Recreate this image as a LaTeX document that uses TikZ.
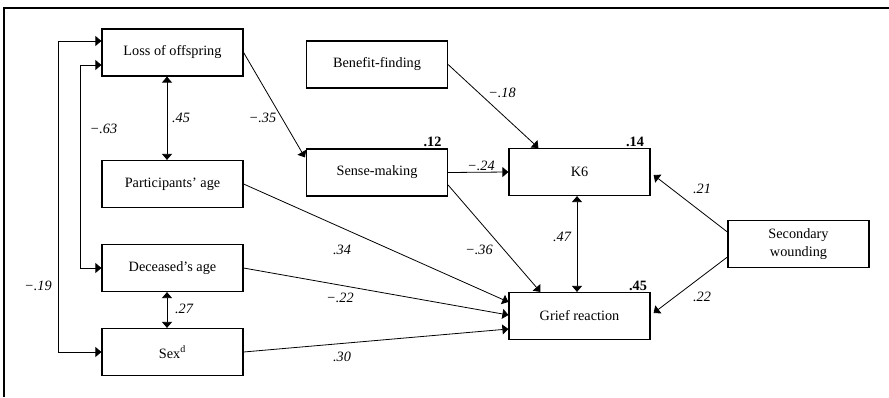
\documentclass[tikz,border=0pt]{standalone}
\usepackage{fontspec}
\setmainfont{Liberation Serif}
\usetikzlibrary{arrows.meta,calc}
\tikzset{
  box/.style={draw, line width=0.9pt, minimum width=105.75pt, minimum height=35.25pt,
    inner sep=0pt, align=center, font=\fontsize{10.7}{13.5}\selectfont},
  coef/.style={inner sep=0pt, font=\fontsize{10.7}{12}\selectfont\itshape},
  rsq/.style={inner sep=0pt, font=\fontsize{10.7}{12}\selectfont\bfseries},
  link/.style={line width=0.6pt, -{Triangle[length=4.5pt,width=7.5pt]}},
  twoway/.style={line width=0.6pt, {Triangle[length=4.5pt,width=7.5pt]}-{Triangle[length=4.5pt,width=7.5pt]}}
}
\begin{document}
\begin{tikzpicture}[x=0.75pt,y=-0.75pt]
    \useasboundingbox (0,0) rectangle (889,397);
    % frame
    \draw[line width=2pt] (4,397) -- (4,8) -- (889,8);
    % boxes
    \node[box] (loss) at (172.5,52.5) {Loss of offspring};
    \node[box] (part) at (172.5,184) {Participants’ age};
    \node[box] (dec) at (172.5,268) {Deceased’s age};
    \node[box] (sex) at (172.5,352) {Sex\textsuperscript{d}};
    \node[box] (benefit) at (377,64.5) {Benefit-finding};
    \node[box] (sense) at (377,172.5) {Sense-making};
    \node[box] (k6) at (579.5,172) {K6};
    \node[box] (grief) at (579.5,316) {Grief reaction};
    \node[box] (sec) at (798.5,244) {Secondary\\wounding};
    % correlations on the left
    \draw[twoway] (sex.west) -- ++(-43,0) |- ($(loss.west)+(0,-11.5)$);
    \draw[twoway] (dec.west) -- ++(-21,0) |- ($(loss.west)+(0,12.5)$);
    \draw[twoway] ($(loss.south)+(-5.5,0)$) -- ($(part.north)+(-5.5,0)$);
    \draw[twoway] ($(dec.south)+(-5.5,0)$) -- ($(sex.north)+(-5.5,0)$);
    \draw[twoway] ($(k6.south)+(-2.5,0)$) -- ($(grief.north)+(-2.5,0)$);
    % paths
    \draw[link] (loss.east) -- ($(sense.north west)+(-1,9)$);
    \draw[link] (benefit.east) -- ($(k6.north west)+(30,0)$);
    \draw[link] (sense.east) -- (k6.west);
    \draw[link] ($(sense.east)+(0,12.5)$) -- ($(grief.north west)+(32,0)$);
    \draw[link] (part.east) -- ($(grief.west)+(0,-14)$);
    \draw[link] (dec.east) -- ($(grief.west)+(0,-1)$);
    \draw[link] (sex.east) -- ($(grief.west)+(0,13)$);
    \draw[link] ($(sec.west)+(0,-12)$) -- ($(k6.east)+(3,3)$);
    \draw[link] ($(sec.west)+(0,13)$) -- ($(grief.east)+(3,-3)$);
    % coefficients
    \node[coef] (c19) at (38,286) {−.19};
    \node[coef] (c63) at (103.5,129) {−.63};
    \node[coef] (c45) at (181,118) {.45};
    \node[coef] (c27) at (184,309) {.27};
    \node[coef] (c35) at (262.5,118) {−.35};
    \node[coef] (c18) at (502,93) {−.18};
    \node[coef] (c24) at (481,166) {−.24};
    \node[coef] (c21) at (702,189) {.21};
    \node[coef] (c47) at (562,237) {.47};
    \node[coef] (c36) at (479,250) {−.36};
    \node[coef] (c34) at (342,250) {.34};
    \node[coef] (c22a) at (340,298) {−.22};
    \node[coef] (c30) at (342,357) {.30};
    \node[coef] (c22b) at (702,297) {.22};
    % explained variance
    \node[rsq] (r12) at (432.5,142) {.12};
    \node[rsq] (r14) at (635,142) {.14};
    \node[rsq] (r45) at (638,286) {.45};
\end{tikzpicture}
\end{document}
